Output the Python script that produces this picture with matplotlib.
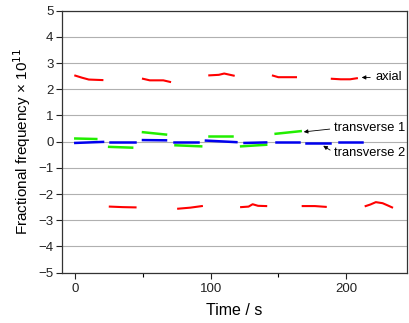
import matplotlib
matplotlib.use("Agg")
import matplotlib.pyplot as plt

plt.rcParams['font.family'] = ['Liberation Sans', 'DejaVu Sans']

# Axial segments (time in s, fractional frequency x 1e11)
axial_t = [
    [0, 5, 10, 20],
    [25.5, 35, 44.5],
    [50, 55, 65, 70],
    [76, 85, 93.5],
    [99, 106, 110, 117],
    [122.5, 128, 131, 135, 141],
    [146, 150, 163],
    [168, 177, 185],
    [189.5, 196, 203, 208],
    [214.5, 218, 222, 227, 231, 234],
]
axial_v = [
    [2.52, 2.44, 2.37, 2.35],
    [-2.48, -2.50, -2.51],
    [2.40, 2.34, 2.34, 2.28],
    [-2.56, -2.52, -2.46],
    [2.53, 2.55, 2.60, 2.52],
    [-2.50, -2.48, -2.39, -2.45, -2.46],
    [2.52, 2.46, 2.46],
    [-2.46, -2.46, -2.49],
    [2.40, 2.38, 2.38, 2.42],
    [-2.46, -2.40, -2.31, -2.35, -2.44, -2.51],
]

# Transverse 1 segments
t1_t = [
    [0, 15.5],
    [25, 42],
    [50, 67],
    [74, 93],
    [99, 116],
    [122.5, 141],
    [148, 166.5],
]
t1_v = [
    [0.12, 0.10],
    [-0.20, -0.23],
    [0.36, 0.27],
    [-0.14, -0.18],
    [0.20, 0.20],
    [-0.18, -0.12],
    [0.30, 0.40],
]

# Transverse 2 segments
t2_t = [
    [0, 20.5],
    [25.5, 44],
    [50, 67],
    [73, 90.5],
    [96.5, 119],
    [125, 141],
    [148, 165],
    [170.5, 188.5],
    [195, 212],
]
t2_v = [
    [-0.05, -0.01],
    [-0.03, -0.03],
    [0.06, 0.05],
    [0.00, 0.00],
    [0.04, -0.02],
    [-0.05, -0.03],
    [0.00, 0.00],
    [-0.04, -0.04],
    [-0.01, -0.01],
]

fig = plt.figure(figsize=(4.09, 3.23), dpi=100)
ax = fig.add_axes([0.151, 0.156, 0.844, 0.811])

for t, v in zip(axial_t, axial_v):
    ax.plot(t, v, color='#ff0000', lw=1.5, zorder=3)
for t, v in zip(t1_t, t1_v):
    ax.plot(t, v, color='#22ee00', lw=1.8, zorder=3)
for t, v in zip(t2_t, t2_v):
    ax.plot(t, v, color='#0000ee', lw=1.8, zorder=4)

ax.set_xlim(-10, 245)
ax.set_ylim(-5, 5)
ax.set_xticks([0, 100, 200])
ax.set_xticks([50, 150], minor=True)
ax.set_yticks(range(-5, 6))
ax.yaxis.grid(True, color='#b0b0b0', lw=0.8)
ax.set_axisbelow(True)
ax.tick_params(direction='out', length=4, width=0.8, labelsize=9.5, colors='#222222')
ax.tick_params(which='minor', direction='out', length=3, width=0.8)
ax.tick_params(axis='y', pad=2)
for s in ax.spines.values():
    s.set_color('#333333')
    s.set_linewidth(0.9)

ax.set_xlabel('Time / s', fontsize=11.5, labelpad=6)
ax.set_ylabel(r'Fractional frequency × 10$^{11}$', fontsize=11, labelpad=4)

arrow = dict(arrowstyle='-|>', color='black', lw=0.6, mutation_scale=6)
ax.annotate('axial', xy=(209.5, 2.45), xytext=(222, 2.45), fontsize=9.3,
            va='center', arrowprops=arrow)

ax.text(191, 0.51, 'transverse 1', fontsize=9.3, va='center')
ax.annotate('', xy=(166.7, 0.36), xytext=(190, 0.49), arrowprops=arrow)
ax.text(191, -0.45, 'transverse 2', fontsize=9.3, va='center')
ax.annotate('', xy=(181.4, -0.1), xytext=(190, -0.38), arrowprops=arrow)

fig.savefig('out.png', dpi=100)
